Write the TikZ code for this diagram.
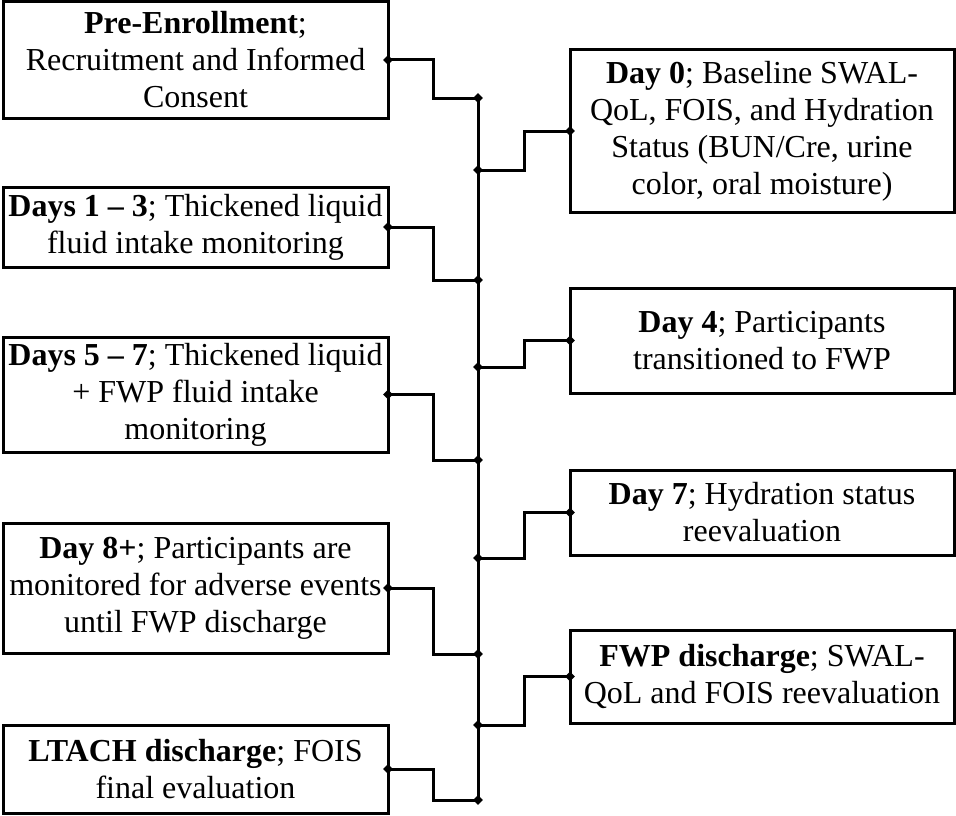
\documentclass[tikz,border=0pt]{standalone}
\usepackage{fontspec}
\setmainfont{Liberation Serif}
\usetikzlibrary{shapes.geometric,calc}

\begin{document}
\begin{tikzpicture}[x=1pt,y=-1pt]
	\tikzset{box/.style={draw,line width=3pt,outer sep=0pt,inner sep=0pt,minimum width=385pt,align=center,font=\fontsize{32}{37}\selectfont},
		dot/.style={diamond,fill,inner sep=0pt,minimum size=10pt},
		link/.style={line width=3pt}}
	\useasboundingbox (0,0) rectangle (956,816);
	
	% left column
	\node (pre) at (195.5,60) [box,minimum height=116pt]{\textbf{Pre-Enrollment};\\Recruitment and Informed\\Consent};
	\node (dA) at (195.5,227) [box,minimum height=80pt]{\textbf{Days 1 -- 3}; Thickened liquid\\fluid intake monitoring};
	\node (dB) at (195.5,394.5) [box,minimum height=115pt]{\textbf{Days 5 -- 7}; Thickened liquid\\+ FWP fluid intake\\monitoring};
	\node (dC) at (195.5,588) [box,minimum height=130pt]{\textbf{Day 8+}; Participants are\\monitored for adverse events\\until FWP discharge};
	\node (lt) at (195.5,769) [box,minimum height=88pt]{\textbf{LTACH discharge}; FOIS\\final evaluation};
	
	% right column
	\node (d0) at (762,131) [box,minimum width=384pt,minimum height=162pt]{\textbf{Day 0}; Baseline SWAL-\\QoL, FOIS, and Hydration\\Status (BUN/Cre, urine\\color, oral moisture)};
	\node (d4) at (762,340.5) [box,minimum width=384pt,minimum height=105pt]{\textbf{Day 4}; Participants\\transitioned to FWP};
	\node (d7) at (762,512.5) [box,minimum width=384pt,minimum height=85pt]{\textbf{Day 7}; Hydration status\\reevaluation};
	\node (fw) at (762,676.5) [box,minimum width=384pt,minimum height=93pt]{\textbf{FWP discharge}; SWAL-\\QoL and FOIS reevaluation};
	
	% time line
	\foreach \n/\y in {j1/98,j2/170,j3/280,j4/367,j5/460,j6/558,j7/654,j8/725,j9/800}
	\coordinate (\n) at (478,\y);
	\draw [link] (j1) -- (j9);
	
	\foreach \a/\b/\s in {pre/j1/east,d0/j2/west,dA/j3/east,d4/j4/west,dB/j5/east,d7/j6/west,dC/j7/east,fw/j8/west,lt/j9/east}{
	\draw [link] (\a.\s) -| ($(\a.\s)!0.5!(\b)$) |- (\b);
	\node at (\a.\s) [dot]{};
	\node at (\b) [dot]{};
	}
\end{tikzpicture}
\end{document}
